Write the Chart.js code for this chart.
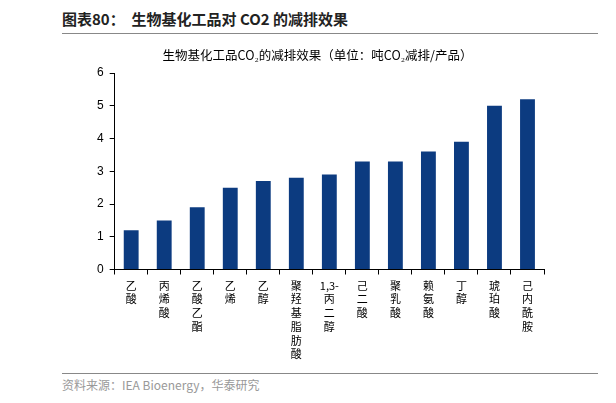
<!DOCTYPE html>
<html><head><meta charset="utf-8">
<script src="https://cdn.jsdelivr.net/npm/chart.js@4/dist/chart.umd.min.js"></script>
<style>
body{margin:0;width:616px;height:403px;background:#fff;position:relative;overflow:hidden;font-family:"Noto Sans CJK SC",sans-serif}
#hd{position:absolute;left:62px;top:8px;font-size:15px;font-weight:bold;color:#222}
#l1{position:absolute;left:62px;top:33px;width:536px;border-top:1px solid #888}
#l2{position:absolute;left:62px;top:373px;width:536px;border-top:1px solid #888}
#ft{position:absolute;left:62px;top:376px;font-size:12px;color:#999}
#c{position:absolute;left:0;top:0}
</style></head><body>
<div id="hd">图表80：&nbsp; 生物基化工品对 CO2 的减排效果</div>
<div id="l1"></div>
<div id="l2"></div>
<div id="ft">资料来源：IEA Bioenergy，华泰研究</div>
<canvas id="c" width="616" height="403"></canvas>
<script>
const categories = ['乙酸','丙烯酸','乙酸乙酯','乙烯','乙醇','聚羟基脂肪酸','1,3-丙二醇','己二酸','聚乳酸','赖氨酸','丁醇','琥珀酸','己内酰胺']
const values = [1.2, 1.5, 1.9, 2.5, 2.7, 2.8, 2.9, 3.3, 3.3, 3.6, 3.9, 5.0, 5.2]
const yTicks = [0, 1, 2, 3, 4, 5, 6]

const labels = categories.map(c => c.startsWith('1,3-') ? ['1,3-'].concat(c.slice(4).split('')) : c.split(''))

new Chart(document.getElementById('c'), {
    type: 'bar',
    data: {
        labels: labels,
        datasets: [{ data: values, backgroundColor: '#0c3b80', barPercentage: 0.45, categoryPercentage: 1 }]
    },
    options: {
        responsive: false,
        animation: false,
        layout: { padding: { left: 91, right: 72, top: 42, bottom: 38 } },
        plugins: {
            legend: { display: false },
            tooltip: { enabled: false },
            title: {
                display: true,
                text: '生物基化工品CO₂的减排效果（单位：吨CO₂减排/产品）',
                color: '#000',
                font: { size: 12.5, family: 'Noto Sans CJK SC', weight: 'normal' },
                padding: { top: 6, bottom: 10 }
            }
        },
        scales: {
            x: {
                grid: { drawOnChartArea: false, color: '#000', tickLength: 5 },
                border: { color: '#000' },
                ticks: { color: '#000', font: { size: 11, family: 'Noto Sans CJK SC', lineHeight: 1.25 }, maxRotation: 0, autoSkip: false, padding: 4 }
            },
            y: {
                min: 0, max: 6,
                afterBuildTicks: a => { a.ticks = yTicks.map(v => ({ value: v })) },
                grid: { drawOnChartArea: false, color: '#000', tickLength: 5 },
                border: { color: '#000' },
                ticks: { color: '#000', font: { size: 12, family: 'Liberation Sans' }, padding: 6 }
            }
        }
    }
})
</script>
</body></html>
